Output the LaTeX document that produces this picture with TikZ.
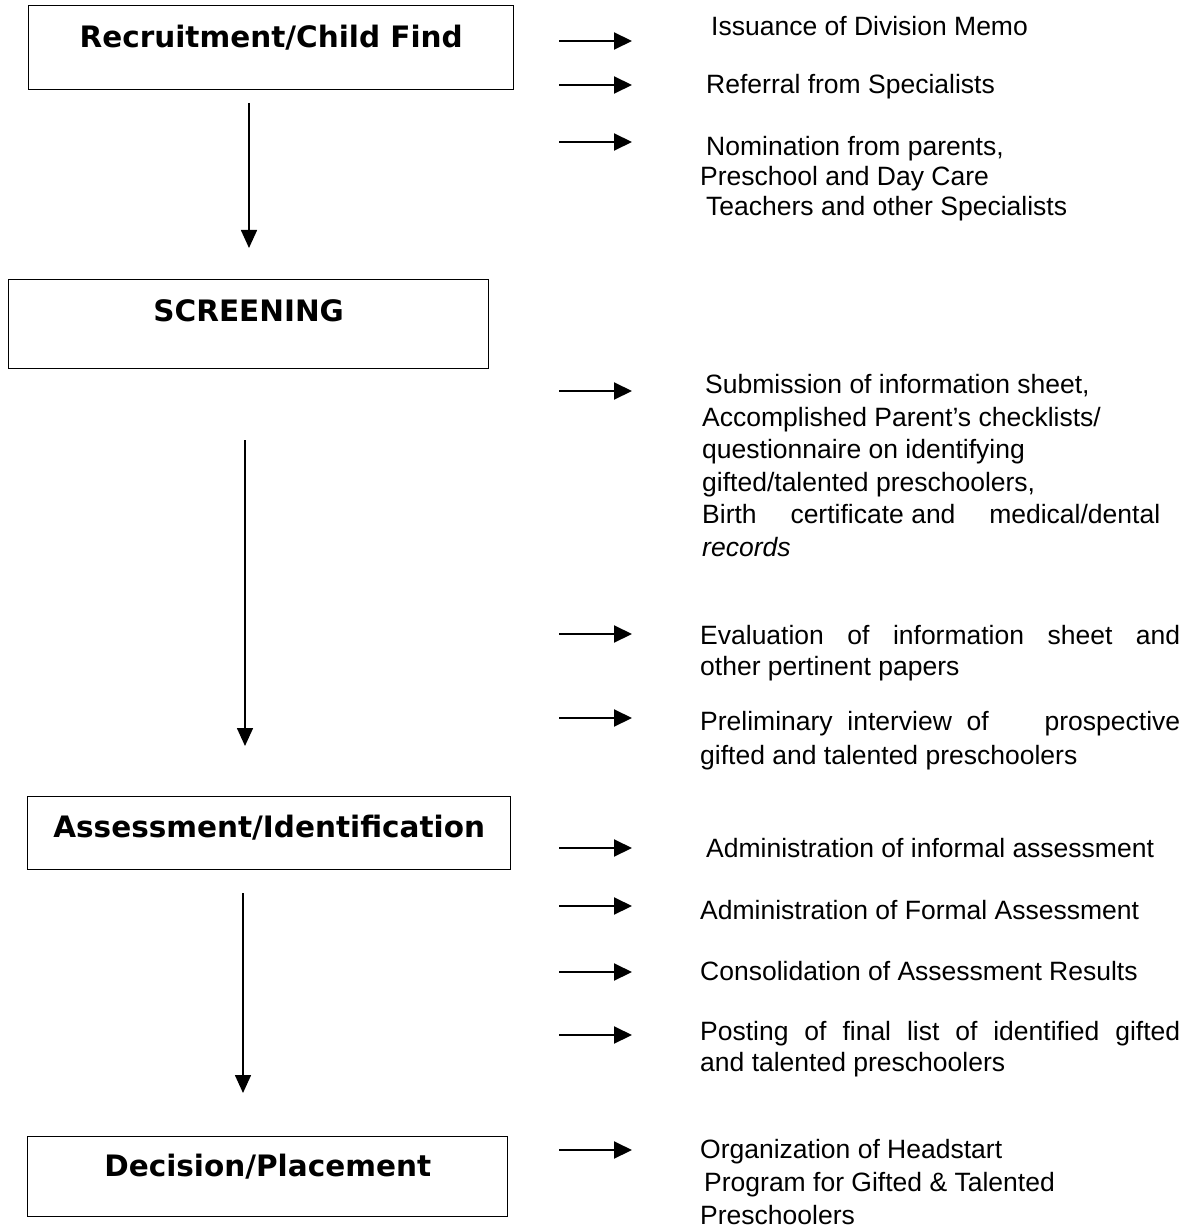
\documentclass[tikz,border=0pt]{standalone}
\usepackage{fontspec}
\setmainfont{Liberation Sans}
\newfontfamily\titlefont{DejaVu Sans}
\usetikzlibrary{arrows.meta}
\begin{document}
\begin{tikzpicture}[x=1pt,y=-1pt,
  box/.style={draw, line width=1.4pt, inner sep=0, anchor=north west},
  title/.style={font=\titlefont\bfseries\fontsize{29.5}{34}\selectfont, inner sep=0, anchor=base},
  item/.style={anchor=north west, align=left, inner sep=0, font=\fontsize{26.5}{31}\selectfont},
  harrow/.style={line width=2pt, -{Triangle[length=18pt,width=17pt]}},
  varrow/.style={line width=1.6pt, -{Triangle[length=18pt,width=16pt]}}]
\path[use as bounding box, fill=white] (0,0) rectangle (1187,1230);

% main boxes
\node[box, minimum width=485pt, minimum height=84pt] (b1) at (28,5) {};
\node[title] (t1) at ([yshift=-43pt]b1.north) {Recruitment/Child Find};
\node[box, minimum width=480pt, minimum height=89pt] (b2) at (8,279) {};
\node[title] (t2) at ([yshift=-42pt]b2.north) {SCREENING};
\node[box, minimum width=483pt, minimum height=73pt] (b3) at (27,796) {};
\node[title] (t3) at ([yshift=-41pt]b3.north) {Assessment/Identification};
\node[box, minimum width=480pt, minimum height=80pt] (b4) at (27,1136) {};
\node[title] (t4) at ([yshift=-40pt]b4.north) {Decision/Placement};

% vertical arrows
\coordinate (v1s) at (249,103); \coordinate (v1e) at (249,248);
\coordinate (v2s) at (245,440); \coordinate (v2e) at (245,746);
\coordinate (v3s) at (243,893); \coordinate (v3e) at (243,1093);
\draw[varrow] (v1s) -- (v1e);
\draw[varrow] (v2s) -- (v2e);
\draw[varrow] (v3s) -- (v3e);

% right items
\node[item] (i1) at (711,16) {Issuance of Division Memo};
\node[item] (i2) at (706,74) {Referral from Specialists};
\node[item, font=\fontsize{26.5}{30}\selectfont] (i3) at (700,136) {\hspace{6pt}Nomination from parents,\\Preschool and Day Care\\\hspace{6pt}Teachers and other Specialists};
\node[item, font=\fontsize{26.5}{32.6}\selectfont] (i4) at (702,374) {\hspace{3pt}Submission of information sheet,\\Accomplished Parent’s checklists/\\questionnaire on identifying\\gifted/talented preschoolers,\\\hbox to 458pt{Birth\hfill certificate and\hfill medical/dental}\\\textit{records}};
\node[item] (i5) at (700,625) {\hbox to 480pt{Evaluation\hfill of\hfill information\hfill sheet\hfill and}\\other pertinent papers};
\node[item, font=\fontsize{26.5}{34}\selectfont] (i6) at (700,711) {\hbox to 480pt{Preliminary\ \ interview\ \ of\hfill prospective}\\gifted and talented preschoolers};
\node[item] (i7) at (706,838) {Administration of informal assessment};
\node[item] (i8) at (700,900) {Administration of Formal Assessment};
\node[item] (i9) at (700,961) {Consolidation of Assessment Results};
\node[item] (i10) at (700,1021) {\hbox to 480pt{Posting\hfill of\hfill final\hfill list\hfill of\hfill identified\hfill gifted}\\and talented preschoolers};
\node[item, font=\fontsize{26.5}{33}\selectfont] (i11) at (700,1139) {Organization of Headstart\\\hspace{4pt}Program for Gifted \& Talented\\Preschoolers};

% horizontal arrows
\foreach \n/\y in {1/41, 2/85, 3/142, 4/391, 5/634, 6/718, 7/848, 8/906, 9/972, 10/1035, 11/1150} {
  \coordinate (h\n s) at (559,\y);
  \coordinate (h\n e) at (632,\y);
  \draw[harrow] (h\n s) -- (h\n e);
}
\end{tikzpicture}
\end{document}
